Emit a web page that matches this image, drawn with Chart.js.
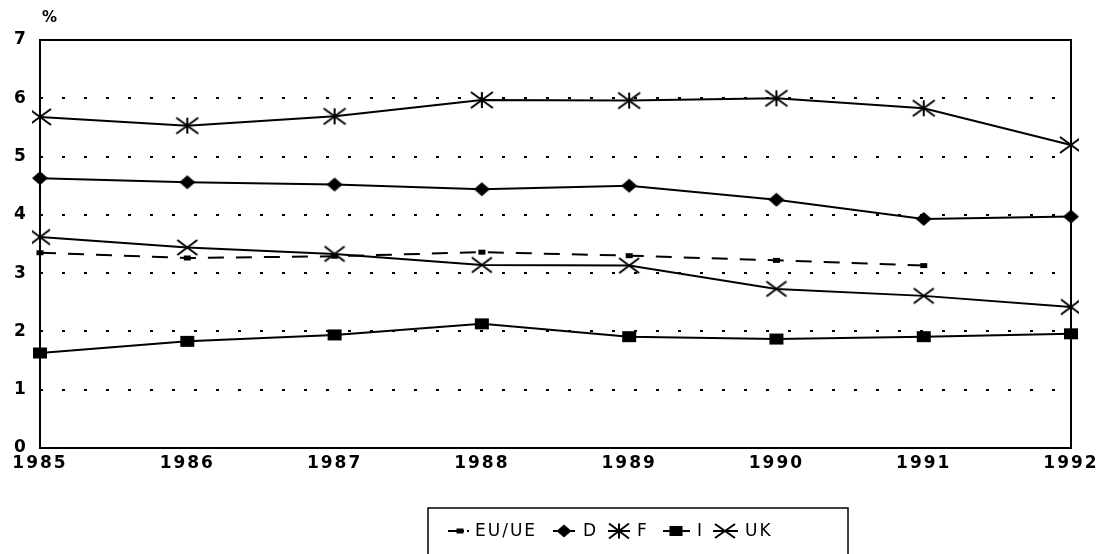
<!DOCTYPE html>
<html>
<head>
<meta charset="utf-8">
<script src="https://cdn.jsdelivr.net/npm/chart.js@4.4.1/dist/chart.umd.min.js"></script>
<style>
  html, body { margin: 0; padding: 0; background: #fff; }
  #wrap { width: 1105px; height: 554px; position: relative; }
</style>
</head>
<body>
<div id="wrap"><canvas id="c" width="1105" height="554"></canvas></div>
<script>
const years = ['1985', '1986', '1987', '1988', '1989', '1990', '1991', '1992'];
const seriesNames = ['EU/UE', 'D', 'F', 'I', 'UK'];
const euValues = [3.35, 3.26, 3.29, 3.36, 3.30, 3.22, 3.13, null];
const dValues  = [4.63, 4.56, 4.52, 4.44, 4.50, 4.26, 3.93, 3.97];
const fValues  = [5.68, 5.53, 5.69, 5.97, 5.96, 6.00, 5.83, 5.20];
const iValues  = [1.63, 1.83, 1.94, 2.13, 1.91, 1.87, 1.91, 1.96];
const ukValues = [3.62, 3.44, 3.33, 3.14, 3.13, 2.73, 2.61, 2.42];
const yTicks = [0, 1, 2, 3, 4, 5, 6, 7];
const unitLabel = '%';

const INK = '#000';

function drawShape(ctx, type, cx, cy, w, h) {
  ctx.save();
  ctx.strokeStyle = INK; ctx.fillStyle = INK; ctx.lineWidth = 2;
  ctx.setLineDash([]);
  ctx.beginPath();
  if (type === 'asterisk') {
    ctx.moveTo(cx - w/2, cy - h/2); ctx.lineTo(cx + w/2, cy + h/2);
    ctx.moveTo(cx + w/2, cy - h/2); ctx.lineTo(cx - w/2, cy + h/2);
    ctx.moveTo(cx, cy - h/2); ctx.lineTo(cx, cy + h/2);
    ctx.stroke();
  } else if (type === 'x') {
    ctx.moveTo(cx - w/2, cy - h/2); ctx.lineTo(cx + w/2, cy + h/2);
    ctx.moveTo(cx + w/2, cy - h/2); ctx.lineTo(cx - w/2, cy + h/2);
    ctx.stroke();
  } else if (type === 'diamond') {
    ctx.moveTo(cx, cy - h/2); ctx.lineTo(cx + w/2, cy); ctx.lineTo(cx, cy + h/2); ctx.lineTo(cx - w/2, cy);
    ctx.closePath(); ctx.fill();
  } else if (type === 'rect') {
    ctx.fillRect(cx - w/2, cy - h/2, w, h);
  }
  ctx.restore();
}

function marker(type, w, h) {
  const pad = 2;
  const cv = document.createElement('canvas');
  cv.width = w + pad * 2; cv.height = h + pad * 2;
  const ctx = cv.getContext('2d');
  drawShape(ctx, type, cv.width / 2, cv.height / 2, w, h);
  return cv;
}

const mEU = marker('rect', 7, 5);
const mD = marker('diamond', 16, 14);
const mF = marker('asterisk', 22, 16);
const mI = marker('rect', 14, 11);
const mUK = marker('x', 20, 15);

function ds(label, data, style, dash) {
  return {
    label, data,
    borderColor: INK, backgroundColor: INK,
    borderWidth: 2,
    borderDash: dash || [],
    pointStyle: style,
    pointRadius: 6, pointHoverRadius: 6,
    tension: 0, fill: false, spanGaps: false
  };
}

const SPACING = '2px';
const letterPlugin = {
  id: 'letter',
  beforeLayout(chart) { chart.ctx.letterSpacing = SPACING; },
  beforeDraw(chart) { chart.ctx.letterSpacing = SPACING; }
};

const framePlugin = {
  id: 'frame',
  afterDraw(chart) {
    const ctx = chart.ctx;
    const a = chart.chartArea;
    ctx.save();
    ctx.strokeStyle = INK;
    ctx.lineWidth = 2;
    ctx.setLineDash([]);
    ctx.strokeRect(a.left, a.top, a.right - a.left, a.bottom - a.top);

    // unit label
    ctx.letterSpacing = '0px';
    ctx.fillStyle = INK;
    ctx.font = 'bold 15px "DejaVu Sans"';
    ctx.textAlign = 'left';
    ctx.textBaseline = 'middle';
    ctx.fillText(unitLabel, 42, 18);

    // legend
    const bx = 428, by = 508, bw = 420, bh = 60;
    ctx.lineWidth = 1.5;
    ctx.strokeRect(bx, by, bw, bh);
    const ly = 531;
    ctx.font = '17px "DejaVu Sans"';
    ctx.letterSpacing = '2px';
    ctx.textBaseline = 'middle';
    const items = [
      { sym: 'rect', w: 7, h: 5, l0: 448, l1: 464, mx: 460, tx: 475, extra: true },
      { sym: 'diamond', w: 15, h: 13, l0: 553, l1: 575, mx: 564, tx: 583 },
      { sym: 'asterisk', w: 20, h: 15, l0: 608, l1: 630, mx: 619, tx: 637 },
      { sym: 'rect', w: 13, h: 10, l0: 663, l1: 690, mx: 676, tx: 697 },
      { sym: 'x', w: 20, h: 14, l0: 713, l1: 738, mx: 725, tx: 745 }
    ];
    items.forEach((it, i) => {
      ctx.lineWidth = 2;
      ctx.beginPath();
      ctx.moveTo(it.l0, ly); ctx.lineTo(it.l1, ly);
      ctx.stroke();
      drawShape(ctx, it.sym, it.mx, ly, it.w, it.h);
      if (it.extra) { ctx.fillRect(467, ly - 1, 2, 2); }
      ctx.fillText(seriesNames[i], it.tx, ly + 1);
    });
    ctx.restore();
  }
};

new Chart(document.getElementById('c'), {
  type: 'line',
  data: {
    labels: years,
    datasets: [
      ds(seriesNames[0], euValues, mEU, [16, 12]),
      ds(seriesNames[1], dValues, mD),
      ds(seriesNames[2], fValues, mF),
      ds(seriesNames[3], iValues, mI),
      ds(seriesNames[4], ukValues, mUK)
    ]
  },
  options: {
    responsive: false,
    devicePixelRatio: 1,
    animation: false,
    events: [],
    layout: { padding: { left: 14, right: 34, top: 40, bottom: 0 } },
    plugins: { legend: { display: false }, tooltip: { enabled: false }, title: { display: false } },
    scales: {
      x: {
        type: 'category',
        offset: false,
        grid: { display: false, drawTicks: false },
        border: { display: false },
        ticks: {
          color: INK, padding: 5, maxRotation: 0, autoSkip: false,
          font: { family: '"DejaVu Sans"', size: 17, weight: 'bold' }
        },
        afterFit(s) { s.height = 106; }
      },
      y: {
        min: 0, max: 7,
        afterBuildTicks(s) { s.ticks = yTicks.map(v => ({ value: v })); },
        grid: {
          drawTicks: false,
          color: (c) => (c.tick && (c.tick.value === 0 || c.tick.value === 7)) ? 'rgba(0,0,0,0)' : INK,
          lineWidth: 2
        },
        border: { display: false, dash: [3, 19] },
        ticks: {
          color: INK, padding: 0, crossAlign: 'far',
          font: { family: '"DejaVu Sans"', size: 17, weight: 'bold' },
          callback: (v) => String(v)
        },
        afterFit(s) { s.width = 26; }
      }
    }
  },
  plugins: [letterPlugin, framePlugin]
});
</script>
</body>
</html>
